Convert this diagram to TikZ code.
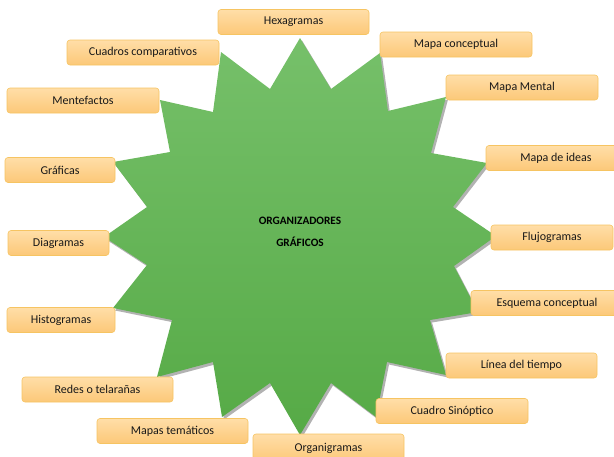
\documentclass[tikz,border=0pt]{standalone}
\usepackage{fontspec}
\setmainfont{Carlito}
\definecolor{boxtop}{RGB}{255,222,168}
\definecolor{boxbot}{RGB}{252,200,120}
\definecolor{boxline}{RGB}{246,196,98}
\definecolor{startop}{RGB}{118,192,106}
\definecolor{starbot}{RGB}{86,170,70}
\begin{document}
\begin{tikzpicture}[x=1pt,y=-1pt,
  box/.style={draw=boxline, line width=0.6pt, rounded corners=3pt,
    top color=boxtop, bottom color=boxbot, minimum height=25pt,
    inner sep=0pt, font=\fontsize{12}{14}\selectfont, text=black!90},
  titletext/.style={font=\fontsize{11.3}{13}\selectfont\bfseries, text=black, align=center}]
\useasboundingbox (0,0) rectangle (614,456);
\clip (0,0) rectangle (614,456);
% shadow of the star
\begin{scope}[shift={(2,2.5)}]
\fill[black, opacity=0.3]
 (300,38) -- (331,89) -- (380,53) -- (388,111) -- (446,97) -- (431,153) -- (487,163) -- (453,207)
 -- (496,236) -- (454,266) -- (478,312) -- (430,320) -- (446,375) -- (387,362) -- (376,417) -- (331,383)
 -- (300,435) -- (270,383) -- (222,417) -- (213,362) -- (157,377) -- (172,320) -- (113,308) -- (147,265)
 -- (104,237) -- (147,207) -- (113,162) -- (170,152) -- (160,100) -- (213,112) -- (221,52) -- (270,89) -- cycle;
\end{scope}
% star
\path[top color=startop, bottom color=starbot]
 (300,38) -- (331,89) -- (380,53) -- (388,111) -- (446,97) -- (431,153) -- (487,163) -- (453,207)
 -- (496,236) -- (454,266) -- (478,312) -- (430,320) -- (446,375) -- (387,362) -- (376,417) -- (331,383)
 -- (300,435) -- (270,383) -- (222,417) -- (213,362) -- (157,377) -- (172,320) -- (113,308) -- (147,265)
 -- (104,237) -- (147,207) -- (113,162) -- (170,152) -- (160,100) -- (213,112) -- (221,52) -- (270,89) -- cycle;
\node[titletext] (title) at (300,231.5) {ORGANIZADORES\\[9pt]GRÁFICOS};
% boxes
\node[box, minimum width=151pt] (hex) at (293.5,22) {Hexagramas};
\node[box, minimum width=152pt] (cuadros) at (143,52.5) {Cuadros comparativos};
\node[box, minimum width=152pt] (mapcon) at (456,44.5) {Mapa conceptual};
\node[box, minimum width=152pt] (mente) at (83,100.5) {Mentefactos};
\node[box, minimum width=152pt] (mental) at (522,87.5) {Mapa Mental};
\node[box, minimum width=140pt] (ideas) at (556,158) {Mapa de ideas};
\node[box, minimum width=110pt] (graf) at (60,170) {Gráficas};
\node[box, minimum width=122pt] (flujo) at (552,237.5) {Flujogramas};
\node[box, minimum width=101pt] (diag) at (58.5,243) {Diagramas};
\node[box, minimum width=152pt] (esq) at (547,303) {Esquema conceptual};
\node[box, minimum width=108pt] (hist) at (61,320) {Histogramas};
\node[box, minimum width=151pt] (linea) at (521.5,365.5) {Línea del tiempo};
\node[box, minimum width=151pt] (redes) at (97.5,389.5) {Redes o telarañas};
\node[box, minimum width=152pt] (sinop) at (452,411) {Cuadro Sinóptico};
\node[box, minimum width=151pt] (tema) at (172.5,431) {Mapas temáticos};
\node[box, minimum width=151pt, minimum height=28pt] (organ) at (328.5,448) {Organigramas};
\end{tikzpicture}
\end{document}
